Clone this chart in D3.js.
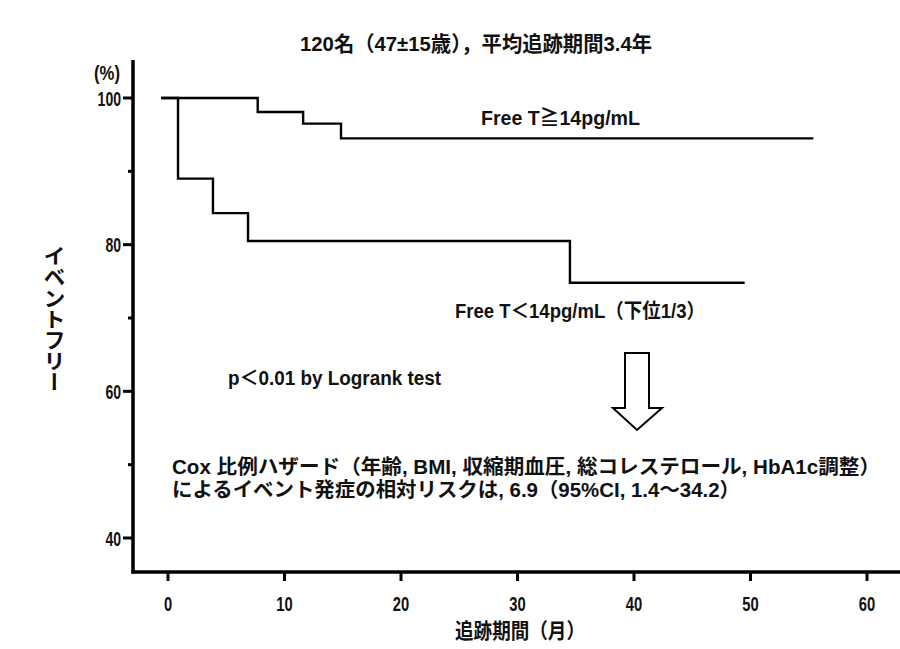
<!DOCTYPE html>
<html><head><meta charset="utf-8">
<script src="https://cdn.jsdelivr.net/npm/d3@7"></script>
<style>
body{margin:0;background:#fff;}
text{font-family:"Liberation Sans Narrow","Liberation Sans","Noto Sans CJK JP",sans-serif;fill:#111;font-weight:bold;}
</style></head>
<body><svg id="c" width="900" height="649"></svg>
<script>
// ---- data ----
const highTimes = [-0.6, 7.7, 11.6, 14.85, 55.4];
const highSurv  = [100, 98.1, 96.5, 94.5, 94.5];
const lowTimes  = [-0.6, 0.86, 3.86, 6.87, 34.5, 49.5];
const lowSurv   = [100, 89.0, 84.3, 80.5, 74.8, 74.8];
const xTicks = [0, 10, 20, 30, 40, 50, 60];
const yTicks = [40, 60, 80, 100];
const yMinor = [50, 70, 90];
const title = "120名（47±15歳），平均追跡期間3.4年";
const yLabel = "イベントフリー";
const xLabel = "追跡期間（月）";
const highLabel = "Free T≧14pg/mL";
const lowLabel = "Free T＜14pg/mL（下位1/3）";
const pText = "p＜0.01 by Logrank test";
const coxLines = ["Cox 比例ハザード（年齢, BMI, 収縮期血圧, 総コレステロール, HbA1c調整）",
                  "によるイベント発症の相対リスクは, 6.9（95%CI, 1.4～34.2）"];

const svg = d3.select("#c");
const x = d3.scaleLinear().domain([0, 60]).range([168, 867]);
const y = d3.scaleLinear().domain([40, 100]).range([538, 98]);
const x0 = 133, yBase = 572, yTop = 60;

// axes lines
svg.append("line").attr("x1", x0).attr("x2", x0).attr("y1", yTop).attr("y2", yBase+1.5)
  .attr("stroke", "#000").attr("stroke-width", 3.5);
svg.append("line").attr("x1", x0-1.5).attr("x2", 900).attr("y1", yBase).attr("y2", yBase)
  .attr("stroke", "#000").attr("stroke-width", 3.5);

function txt(str, xx, yy, size, len, anchor) {
  const t = svg.append("text").attr("x", xx).attr("y", yy).attr("dy", "0.36em")
    .attr("font-size", size).text(str);
  if (anchor) t.attr("text-anchor", anchor);
  if (len) t.attr("textLength", len).attr("lengthAdjust", "spacingAndGlyphs");
  return t;
}

// y ticks
yTicks.forEach(v => {
  svg.append("line").attr("x1", x0-10).attr("x2", x0).attr("y1", y(v)).attr("y2", y(v))
    .attr("stroke", "#000").attr("stroke-width", 3);
  txt(v, x0-12, y(v), 21, String(v).length * 7.8, "end");
});
yMinor.forEach(v => {
  svg.append("line").attr("x1", x0-5).attr("x2", x0).attr("y1", y(v)).attr("y2", y(v))
    .attr("stroke", "#000").attr("stroke-width", 3);
});
// x ticks
xTicks.forEach(v => {
  svg.append("line").attr("x1", x(v)).attr("x2", x(v)).attr("y1", yBase).attr("y2", yBase+9)
    .attr("stroke", "#000").attr("stroke-width", 3);
  txt(v, x(v), 603, 21, String(v).length * 8.2, "middle");
});

// curves
const step = d3.line().curve(d3.curveStepAfter).x(d => x(d[0])).y(d => y(d[1]));
[[highTimes, highSurv], [lowTimes, lowSurv]].forEach(([t, s]) => {
  svg.append("path").datum(t.map((tt, i) => [tt, s[i]])).attr("d", step)
    .attr("fill", "none").attr("stroke", "#000").attr("stroke-width", 2.4);
});

// texts
txt(title, 300, 43, 21, 352);
txt("(%)", 94, 72, 21, 26);
txt(highLabel, 481, 118, 20, 159);
txt(lowLabel, 455, 311, 20, 250);
txt(pText, 228, 378, 20, 213);
txt(coxLines[0], 172, 467, 20, 708);
txt(coxLines[1], 172, 490, 20, 568);
txt(xLabel, 455, 630, 21, 130);

// vertical y label
svg.append("text").attr("x", 52).attr("y", 245)
  .attr("font-size", 22).attr("style", "writing-mode: vertical-rl; text-orientation: upright;")
  .attr("font-family", "Noto Sans CJK JP")
  .attr("textLength", 148).attr("lengthAdjust", "spacingAndGlyphs")
  .text(yLabel);

// hollow down arrow
const arrowPts = [[625,353],[649,353],[649,408],[662,408],[637,430],[613,408],[625,408]];
svg.append("polygon").attr("points", arrowPts.map(p => p.join(",")).join(" "))
  .attr("fill", "#fff").attr("stroke", "#000").attr("stroke-width", 2);
</script></body></html>
